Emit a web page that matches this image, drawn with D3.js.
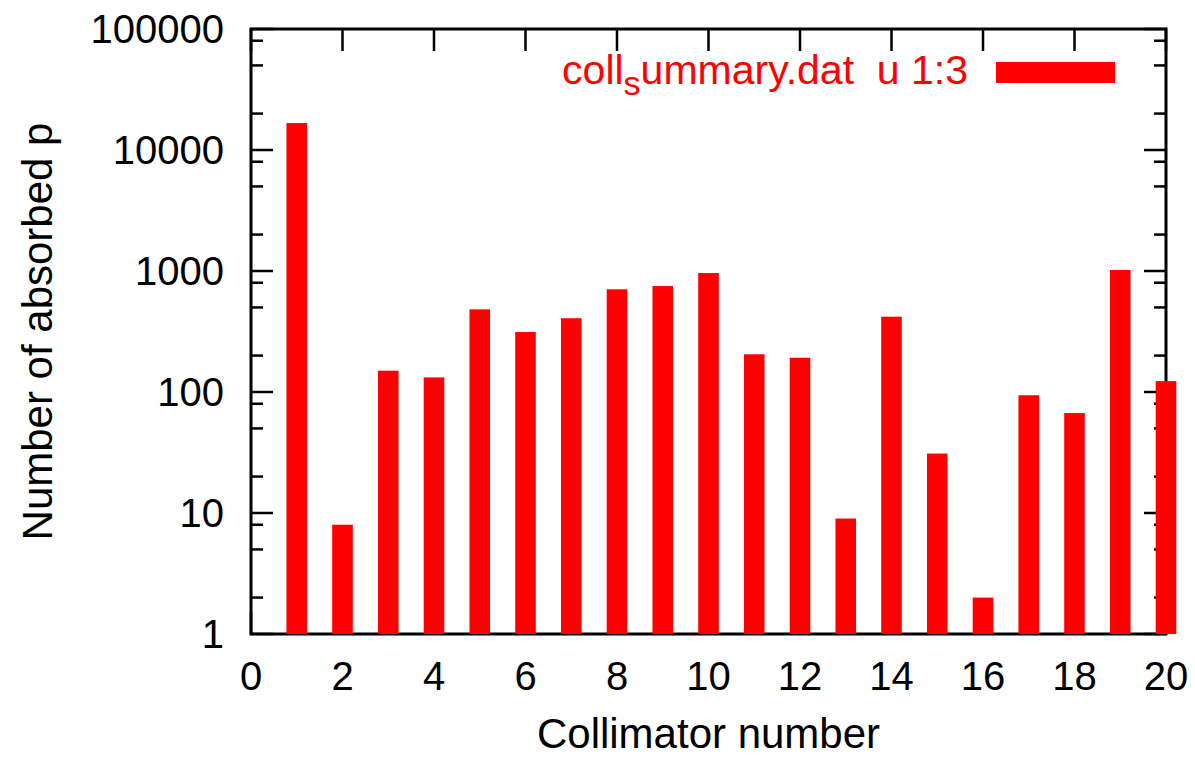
<!DOCTYPE html>
<html>
<head>
<meta charset="utf-8">
<script src="https://cdn.jsdelivr.net/npm/d3@7"></script>
<style>
  body { margin: 0; background: #fff; }
  text { font-family: "Liberation Sans", Arial, sans-serif; }
</style>
</head>
<body>
<div id="chart"></div>
<script>
var svgW = 1195;
var svgH = 758;

var margin = { left: 251, right: 29, top: 29, bottom: 124 };
var chartW = svgW - margin.left - margin.right;
var chartH = svgH - margin.top - margin.bottom;

// collimator number -> absorbed particles
var collimators = [1, 2, 3, 4, 5, 6, 7, 8, 9, 10, 11, 12, 13, 14, 15, 16, 17, 18, 19, 20];
var absorbed = [16700, 8, 150, 132, 482, 313, 407, 706, 751, 962, 205, 192, 9, 419, 31, 2, 94, 67, 1019, 123];

var xTicks = [0, 2, 4, 6, 8, 10, 12, 14, 16, 18, 20];
var yTicks = [1, 10, 100, 1000, 10000, 100000];
var yMinor = [];
yTicks.slice(0, -1).forEach(d => { [2, 5, 8].forEach(m => yMinor.push(d * m)); });

var svg = d3.select("#chart").append("svg")
            .attr("width", svgW)
            .attr("height", svgH);

var g = svg.append("g")
           .attr("transform", `translate(${margin.left}, ${margin.top})`);

var xScale = d3.scaleLinear().domain([0, 20]).range([0, chartW]);
var yScale = d3.scaleLog().domain([1, 100000]).range([chartH, 0]);

var major = 22, minor = 12;
var ticks = g.append("g").attr("stroke", "black").attr("stroke-width", 2.5);

// x ticks bottom and top
xTicks.forEach(t => {
    ticks.append("line").attr("x1", xScale(t)).attr("x2", xScale(t))
         .attr("y1", chartH).attr("y2", chartH - major);
    ticks.append("line").attr("x1", xScale(t)).attr("x2", xScale(t))
         .attr("y1", 0).attr("y2", major);
});
// y ticks left and right
yTicks.forEach(t => {
    ticks.append("line").attr("x1", 0).attr("x2", major)
         .attr("y1", yScale(t)).attr("y2", yScale(t));
    ticks.append("line").attr("x1", chartW).attr("x2", chartW - major)
         .attr("y1", yScale(t)).attr("y2", yScale(t));
});
yMinor.forEach(t => {
    ticks.append("line").attr("x1", 0).attr("x2", minor)
         .attr("y1", yScale(t)).attr("y2", yScale(t));
    ticks.append("line").attr("x1", chartW).attr("x2", chartW - minor)
         .attr("y1", yScale(t)).attr("y2", yScale(t));
});

g.append("rect")
 .attr("x", 0).attr("y", 0)
 .attr("width", chartW).attr("height", chartH)
 .attr("fill", "none").attr("stroke", "black").attr("stroke-width", 3);

// tick labels
g.selectAll(".xl").data(xTicks).enter().append("text")
 .attr("x", d => xScale(d)).attr("y", chartH + 56)
 .attr("text-anchor", "middle").attr("font-size", 40)
 .text(d => d);

g.selectAll(".yl").data(yTicks).enter().append("text")
 .attr("x", -27).attr("y", d => yScale(d)).attr("dy", "0.35em")
 .attr("text-anchor", "end").attr("font-size", 40)
 .text(d => d);

// bars
var barW = xScale(0.45) - xScale(0);
g.selectAll(".bar").data(collimators).enter().append("rect")
 .attr("x", (d, i) => xScale(d) - barW / 2)
 .attr("y", (d, i) => yScale(absorbed[i]))
 .attr("width", barW)
 .attr("height", (d, i) => chartH - yScale(absorbed[i]))
 .attr("fill", "#ff0000");

// legend
var leg = svg.append("text")
             .attr("x", 968).attr("y", 84)
             .attr("text-anchor", "end").attr("font-size", 41)
             .attr("fill", "#ff0000");
leg.append("tspan").text("coll");
leg.append("tspan").attr("font-size", 34).attr("dy", 11).text("s");
leg.append("tspan").attr("dy", -11).text("ummary.dat\u00a0\u00a0u 1:3");

svg.append("rect")
   .attr("x", 996).attr("y", 62)
   .attr("width", 119).attr("height", 21)
   .attr("fill", "#ff0000");

// axis titles
svg.append("text")
   .attr("x", margin.left + chartW / 2).attr("y", 748)
   .attr("text-anchor", "middle").attr("font-size", 42)
   .text("Collimator number");

svg.append("text")
   .attr("transform", `translate(52, ${margin.top + chartH / 2}) rotate(-90)`)
   .attr("text-anchor", "middle").attr("font-size", 42)
   .text("Number of absorbed p");
</script>
</body>
</html>
